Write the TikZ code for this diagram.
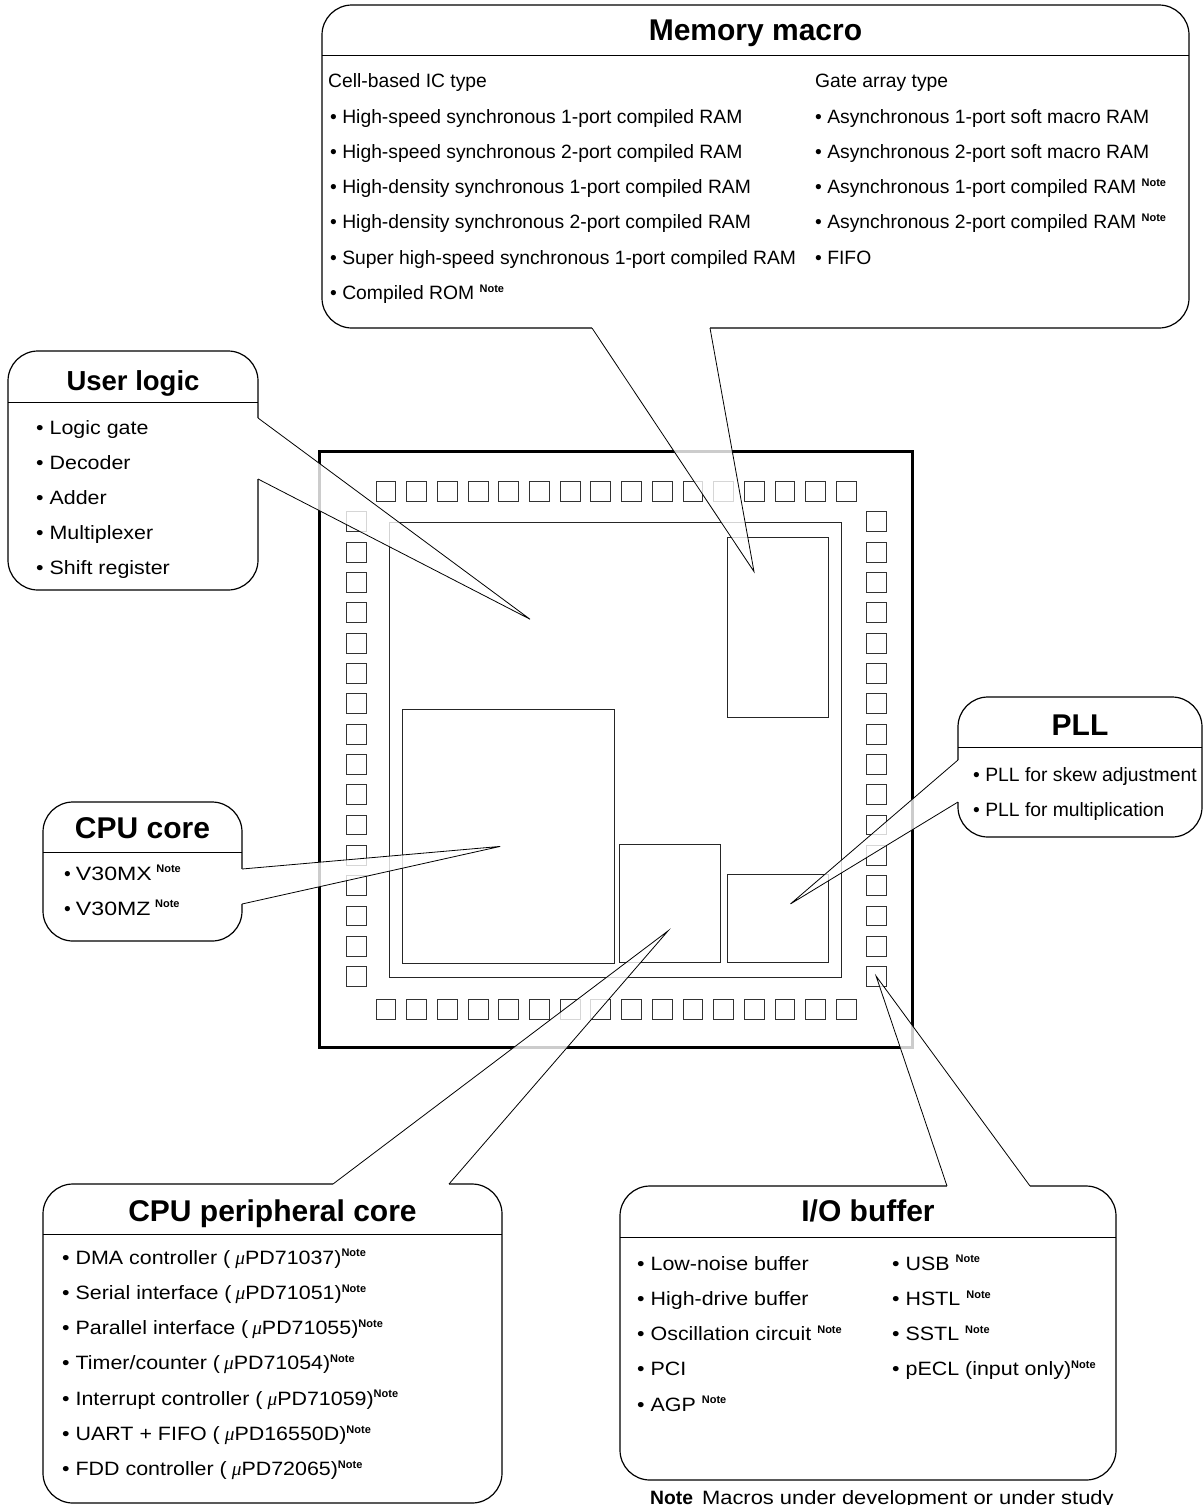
\documentclass[tikz,border=0pt]{standalone}
\usepackage{fontspec}
\setmainfont{Liberation Sans}
\newfontfamily\mufont{Liberation Serif}
\newfontfamily\wideA{Liberation Sans}[FakeStretch=1.11]
\newfontfamily\wideB{Liberation Sans}[FakeStretch=1.135]
\newfontfamily\wideC{Liberation Sans}[FakeStretch=1.2]
\newcommand\nt{\raisebox{7.3pt}{\normalfont\fontsize{11}{11}\selectfont\bfseries Note}}
\newcommand\mymu{{\mufont\itshape μ}}
\begin{document}
\begin{tikzpicture}[x=1pt,y=-1pt,
  box/.style={draw=black, line width=1.2pt, fill=white, rounded corners=30pt},
  divider/.style={line width=1pt},
  txt/.style={anchor=base west, inner sep=0pt, font=\fontsize{19.3}{23}\selectfont},
  wtxt/.style={anchor=base west, inner sep=0pt, font=\wideA\fontsize{19.3}{23}\selectfont},
  ttl/.style={anchor=base, inner sep=0pt, font=\fontsize{30}{34}\selectfont\bfseries},
  wedge/.style={fill=white, fill opacity=0.8, draw=none},
  gap/.style={fill=white, draw=none},
  wline/.style={line width=0.8pt},
  pad/.style={draw=black!80, line width=0.9pt},
  blk/.style={draw=black!85, line width=1pt}]
\useasboundingbox (0,0) rectangle (1204,1505);
\fill[white] (0,0) rectangle (1204,1505);

% ---------- chip ----------
\draw[line width=3pt] (319.5,451.5) rectangle (912.5,1047.5);
\draw[blk] (389.6,522.5) rectangle (841.6,977.7);
\draw[blk] (402.7,709.6) rectangle (614.4,963.4);
\draw[blk] (619.2,844.4) rectangle (720.3,962.6);
\draw[blk] (727.4,874.2) rectangle (828.5,962.6);
\draw[blk] (727.4,537.1) rectangle (828.5,717.2);
\foreach \i in {0,...,15} {
  \draw[pad] ({376.1+30.69*\i},481.6) rectangle ++(19.8,19.9);
  \draw[pad] ({376.1+30.69*\i},999.1) rectangle ++(19.8,19.9);
  \draw[pad] (346.4,{511.8+30.32*\i}) rectangle ++(19.8,19.9);
  \draw[pad] (866.2,{511.8+30.32*\i}) rectangle ++(19.8,19.9);
}

% ---------- pointer tips ----------
\coordinate (ulTip) at (530,619.2);
\coordinate (memTip) at (754,571.6);
\coordinate (cpuTip) at (500.2,846.4);
\coordinate (perTip) at (668,930.9);
\coordinate (pllTip) at (790.5,903.9);
\coordinate (ioTip) at (876.1,976.1);

% ---------- boxes ----------
\draw[box] (322,5) rectangle (1189,328);
\draw[divider] (322,55) -- (1189,55);
\draw[box] (8,351) rectangle (258,590);
\draw[divider] (8,402) -- (258,402);
\draw[box] (43,802) rectangle (242,941);
\draw[divider] (43,852) -- (242,852);
\draw[box] (958,697) rectangle (1202,837);
\draw[divider] (958,747) -- (1202,747);
\draw[box] (43,1184) rectangle (502,1503);
\draw[divider] (43,1234) -- (502,1234);
\draw[box] (620,1186) rectangle (1116,1480);
\draw[divider] (620,1237) -- (1116,1237);

% ---------- wedge base points ----------
\coordinate (memA) at (592,328);  \coordinate (memB) at (710,328);
\coordinate (ulA) at (258,418);   \coordinate (ulB) at (258,479);
\coordinate (cpuA) at (242,869);  \coordinate (cpuB) at (242,904);
\coordinate (pllA) at (958,760);  \coordinate (pllB) at (958,802);
\coordinate (perA) at (333,1184); \coordinate (perB) at (449,1184);
\coordinate (ioA) at (947,1186);  \coordinate (ioB) at (1030,1186);

% gaps in the box outlines
\fill[gap] (592,325.5) rectangle (710,330.5);
\fill[gap] (255.5,418) rectangle (260.5,479);
\fill[gap] (239.5,869) rectangle (244.5,904);
\fill[gap] (955.5,760) rectangle (960.5,802);
\fill[gap] (333,1181.5) rectangle (449,1186.5);
\fill[gap] (947,1183.5) rectangle (1030,1188.5);

% wedges
\foreach \w in {mem,ul,cpu,pll,per,io} {
  \fill[wedge] (\w A) -- (\w Tip) -- (\w B) -- cycle;
  \draw[wline] (\w A) -- (\w Tip) -- (\w B);
}

% ---------- texts ----------
\node[ttl] (memT) at (755.5,40.5) {Memory macro};
\node[txt] (memH1) at (328,87) {Cell-based IC type};
\node[txt] (memH2) at (815,87) {Gate array type};
\foreach \t [count=\k from 0] in {%
  {• High-speed synchronous 1-port compiled RAM},
  {• High-speed synchronous 2-port compiled RAM},
  {• High-density synchronous 1-port compiled RAM},
  {• High-density synchronous 2-port compiled RAM},
  {• Super high-speed synchronous 1-port compiled RAM},
  {• Compiled ROM \nt}}
  \node[txt] (memL\k) at (330,{123+35.3*\k}) {\t};
\foreach \t [count=\k from 0] in {%
  {• Asynchronous 1-port soft macro RAM},
  {• Asynchronous 2-port soft macro RAM},
  {• Asynchronous 1-port compiled RAM \nt},
  {• Asynchronous 2-port compiled RAM \nt},
  {• FIFO}}
  \node[txt] (memR\k) at (815,{123+35.3*\k}) {\t};

\node[ttl, font=\fontsize{27.5}{32}\selectfont\bfseries] (ulT) at (133,390.5) {User logic};
\foreach \t [count=\k from 0] in {%
  {• Logic gate},{• Decoder},{• Adder},{• Multiplexer},{• Shift register}}
  \node[wtxt] (ul\k) at (36,{434+35.2*\k}) {\t};

\node[ttl] (cpuT) at (142.5,838.5) {CPU core};
\node[txt] (cpu0) at (64,880) {•\hspace{5pt}{\wideC V30MX}\hspace{4.5pt}\nt};
\node[txt] (cpu1) at (64,915) {•\hspace{5pt}{\wideC V30MZ}\hspace{4.5pt}\nt};

\node[ttl] (pllT) at (1080,735.5) {PLL};
\node[txt] (pll0) at (973,781) {• PLL for skew adjustment};
\node[txt] (pll1) at (973,816) {• PLL for multiplication};

\node[ttl] (perT) at (272.5,1221.5) {CPU peripheral core};
\foreach \t [count=\k from 0] in {%
  {• DMA controller (\hspace{5pt}\mymu PD71037)\nt},
  {• Serial interface (\hspace{4pt}\mymu PD71051)\nt},
  {• Parallel interface (\hspace{4pt}\mymu PD71055)\nt},
  {• Timer/counter (\hspace{4pt}\mymu PD71054)\nt},
  {• Interrupt controller (\hspace{5pt}\mymu PD71059)\nt},
  {• UART + FIFO (\hspace{5pt}\mymu PD16550D)\nt},
  {• FDD controller (\hspace{5pt}\mymu PD72065)\nt}}
  \node[wtxt] (per\k) at (62,{1264+35.3*\k}) {\t};

\node[ttl] (ioT) at (868,1221.5) {I/O buffer};
\foreach \t [count=\k from 0] in {%
  {• Low-noise buffer},{• High-drive buffer},{• Oscillation circuit \nt},{• PCI},{• AGP \nt}}
  \node[wtxt] (ioL\k) at (637,{1270+35.3*\k}) {\t};
\foreach \t [count=\k from 0] in {%
  {• USB \nt},{• HSTL \nt},{• SSTL \nt},{• pECL (input only)\nt}}
  \node[wtxt] (ioR\k) at (892,{1270+35.3*\k}) {\t};

\node[txt] (note) at (650,1504) {\textbf{Note}\hspace{9pt}{\wideB\fontsize{19.3}{23}\selectfont Macros under development or under study}};
\end{tikzpicture}
\end{document}
